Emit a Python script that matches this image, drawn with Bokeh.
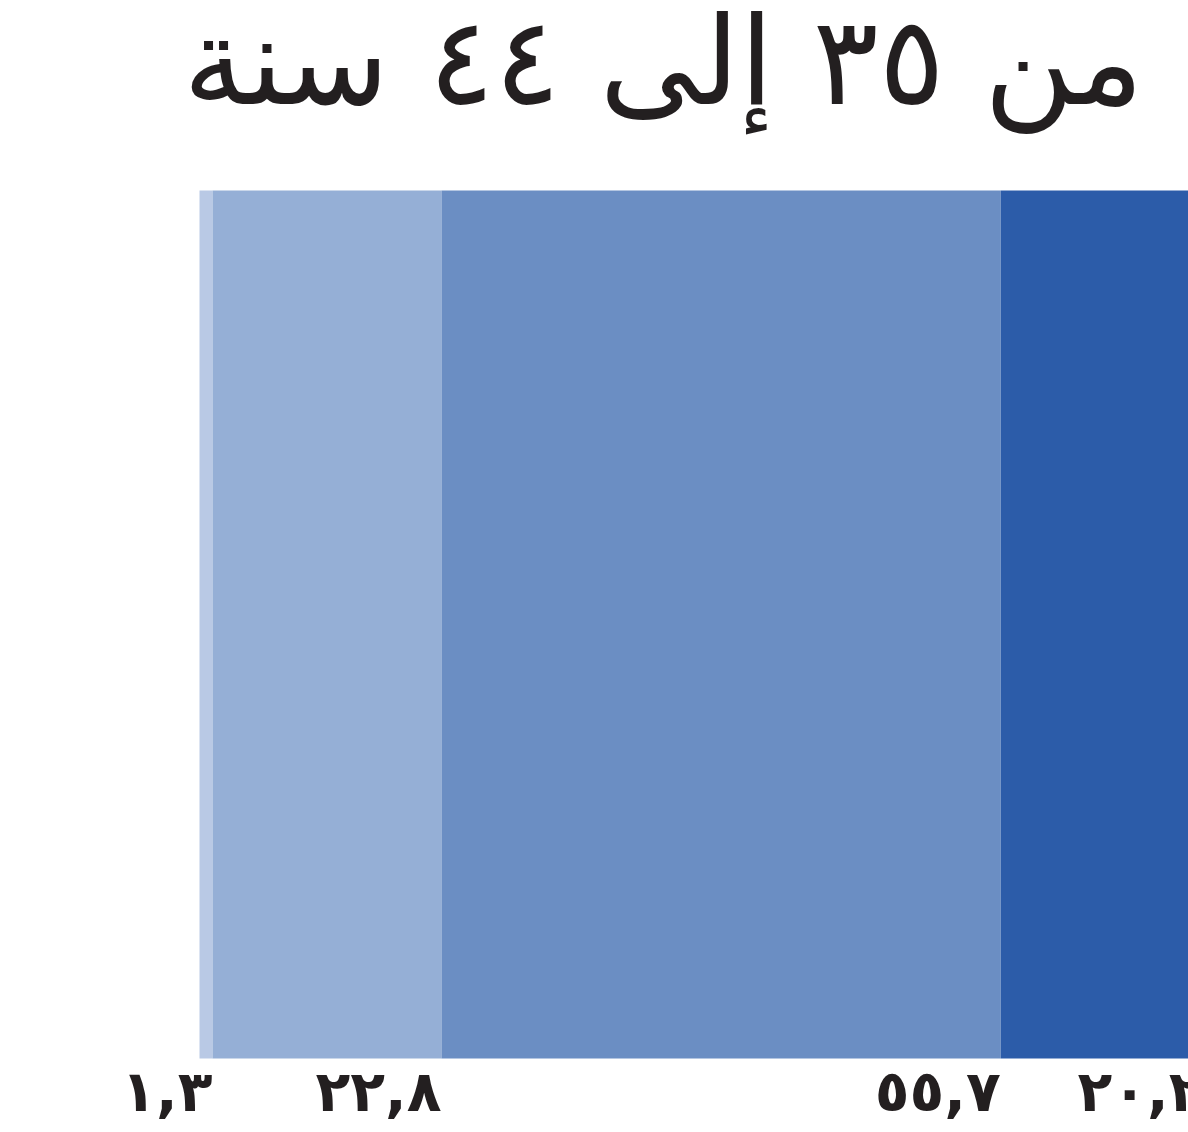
from bokeh.plotting import figure
from bokeh.models import Range1d, ColumnDataSource
from bokeh.core.properties import value
from bokeh.embed import file_html
from bokeh.resources import INLINE

title_text = "من ٣٥ إلى ٤٤ سنة"
values = [1.3, 22.8, 55.7, 20.2]
labels = ["١,٣", "٢٢,٨", "٥٥,٧", "٢٠,٢"]
colors = ["#b9c9e5", "#95afd6", "#6b8ec3", "#2c5ca9"]

ends = []
acc = 0.0
for v in values:
    acc += v
    ends.append(acc)
starts = [e - v for e, v in zip(ends, values)]

W, H = 1188, 1132
px_per_unit = 10.04
left_px = 199
x0 = -left_px / px_per_unit
x1 = x0 + W / px_per_unit

bar_top_px = 190
bar_h_px = 868
y_top = 1 + bar_top_px / bar_h_px
y_bot = 1 - (H - bar_top_px) / bar_h_px


def ypx(py):
    return 1 + (bar_top_px - py) / bar_h_px


def xpx(px):
    return (px - left_px) / px_per_unit


p = figure(width=W, height=H, output_backend="svg", toolbar_location=None,
           x_range=Range1d(x0, x1), y_range=Range1d(y_bot, y_top),
           min_border=0, outline_line_color=None)
p.axis.visible = False
p.grid.visible = False
p.background_fill_color = "white"
p.border_fill_color = "white"

src = ColumnDataSource(dict(left=starts, right=ends, color=colors,
                            label=labels))
p.hbar(y=0.5, left="left", right="right", height=1, color="color",
       line_color=None, source=src)

p.text(x="right", y=ypx(1057), text="label", source=src,
       text_align="right", text_baseline="top",
       text_font=value("DejaVu Sans"), text_font_style="bold",
       text_font_size="57px", text_color="#231f20")

p.text(x=[xpx(1143)], y=[ypx(61)],
       text=[title_text], text_align="right", text_baseline="alphabetic",
       text_font=value("DejaVu Sans"), text_font_size="123px",
       text_color="#231f20")

open("out.html", "w").write(file_html(p, INLINE))
